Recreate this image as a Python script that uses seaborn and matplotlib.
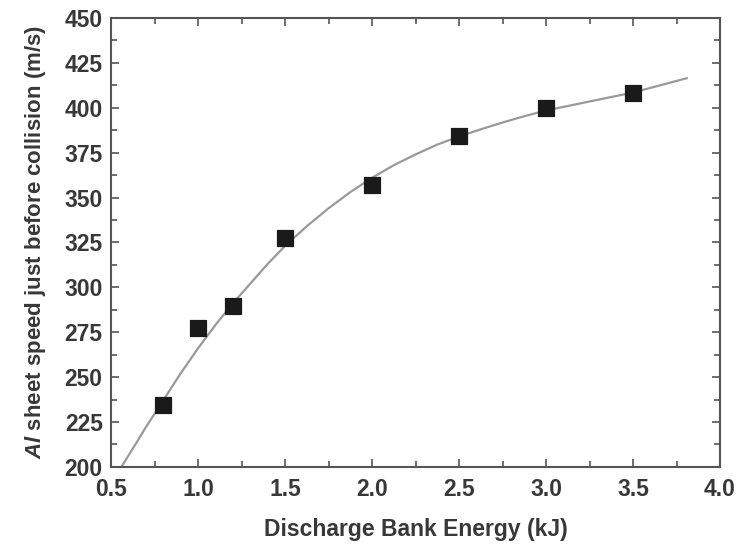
import matplotlib
matplotlib.use('Agg')
import matplotlib.pyplot as plt
import seaborn as sns
from matplotlib.ticker import MultipleLocator, FormatStrFormatter

# measured points
energy = [0.8, 1.0, 1.2, 1.5, 2.0, 2.5, 3.0, 3.5]
speed = [234.5, 277.5, 289.5, 327.5, 357, 384.5, 400, 408]

# fitted curve
fit_x = [0.56, 0.65, 0.7, 0.8, 0.9, 1.0, 1.1, 1.2, 1.3, 1.4, 1.5, 1.625, 1.75, 1.875, 2.0,
         2.125, 2.25, 2.375, 2.5, 2.625, 2.75, 2.875, 3.0, 3.25, 3.5, 3.81]
fit_y = [200, 214, 222, 237, 252, 266, 279, 291, 302, 313, 323, 334, 344, 353, 361,
         368, 374, 379.5, 384, 388, 391.8, 395.3, 398.5, 403.5, 408.5, 416.5]

sns.set_style('ticks')
plt.rcParams['font.family'] = ['Liberation Sans', 'DejaVu Sans']
plt.rcParams['mathtext.fontset'] = 'custom'
plt.rcParams['mathtext.it'] = 'Liberation Sans:italic:bold'
plt.rcParams['mathtext.rm'] = 'Liberation Sans:bold'

txt = '#383838'
fig = plt.figure(figsize=(7.4, 5.46), dpi=100)
ax = fig.add_axes([0.150, 0.145, 0.823, 0.822])

sns.lineplot(x=fit_x, y=fit_y, ax=ax, color='#999999', linewidth=1.6, sort=False)
sns.scatterplot(x=energy, y=speed, ax=ax, marker='s', s=120, color='#1a1a1a',
                edgecolor='#1a1a1a', zorder=5)

ax.set_xlim(0.5, 4.0)
ax.set_ylim(200, 450)
ax.xaxis.set_major_locator(MultipleLocator(0.5))
ax.xaxis.set_minor_locator(MultipleLocator(0.25))
ax.yaxis.set_major_locator(MultipleLocator(25))
ax.yaxis.set_minor_locator(MultipleLocator(12.5))
ax.xaxis.set_major_formatter(FormatStrFormatter('%.1f'))

ax.tick_params(which='both', direction='in', top=True, right=True,
               color='#555555', width=1.2, labelsize=16.5, labelcolor=txt)
ax.tick_params(which='major', length=6)
ax.tick_params(which='minor', length=4)
ax.tick_params(axis='x', pad=8)
ax.tick_params(axis='y', pad=6)
for lbl in ax.get_xticklabels() + ax.get_yticklabels():
    lbl.set_fontweight('bold')
for sp in ax.spines.values():
    sp.set_visible(True)
    sp.set_color('#555555')
    sp.set_linewidth(1.5)

ax.set_xlabel('Discharge Bank Energy (kJ)', fontsize=16.5, fontweight='bold',
              color=txt, labelpad=12)
ax.set_ylabel(r'$\mathit{Al}$ sheet speed just before collision (m/s)', fontsize=16,
              fontweight='bold', color=txt, labelpad=12)

fig.savefig('out.png', dpi=100, facecolor='white')
